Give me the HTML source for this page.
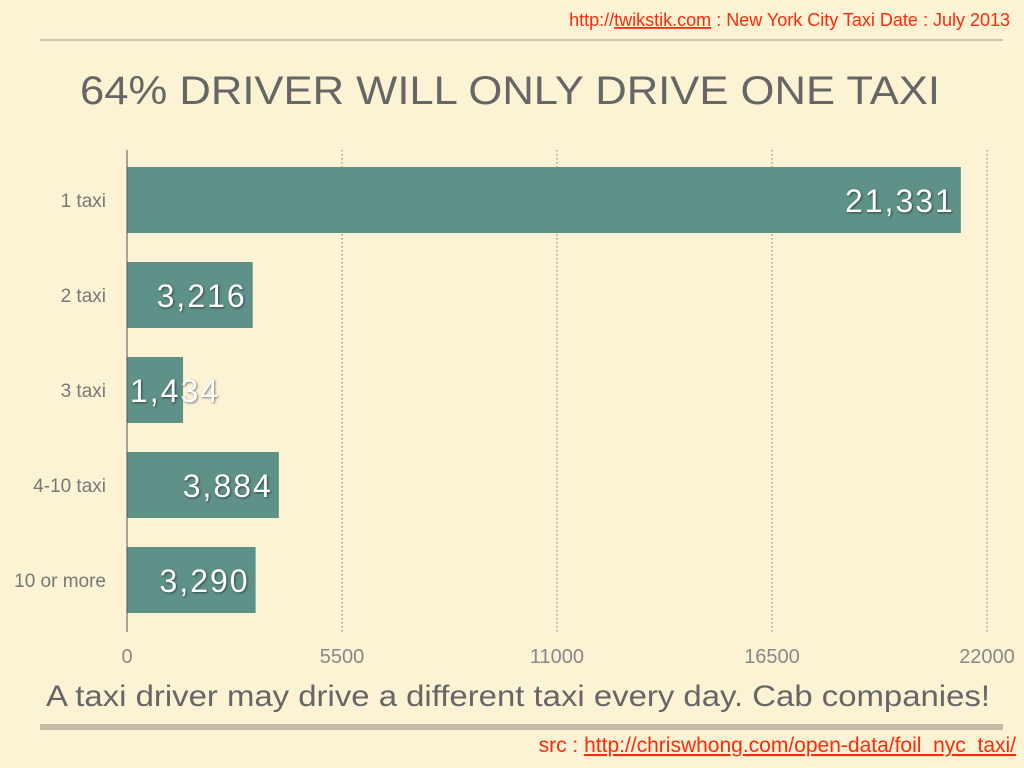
<!DOCTYPE html>
<html><head><meta charset="utf-8"><style>
body{margin:0;width:1024px;height:768px;background:#fcf3d4;overflow:hidden;font-family:"Liberation Sans",sans-serif}
svg{display:block}
</style></head><body>
<svg width="1024" height="768">
<text x="1010" y="26" text-anchor="end" fill="#ff2a0a" font-size="18">http://<tspan text-decoration="underline">twikstik.com</tspan> : New York City Taxi Date : July 2013</text>
<line x1="40" y1="40" x2="1003" y2="40" stroke="#bdb5a0" stroke-width="1.5"/>
<text x="80" y="104" fill="#666" font-size="40" textLength="860" lengthAdjust="spacingAndGlyphs">64% DRIVER WILL ONLY DRIVE ONE TAXI</text>
<g id="grid"></g><g id="bars"></g><g id="xt"></g>
<line x1="127" y1="150" x2="127" y2="632" stroke="#555" stroke-width="1"/>
<text x="46" y="706" fill="#666" font-size="30" textLength="944" lengthAdjust="spacingAndGlyphs">A taxi driver may drive a different taxi every day. Cab companies!</text>
<rect x="40" y="724" width="963" height="6" fill="#c4bca6"/>
<text x="1016" y="752" text-anchor="end" fill="#ff2a0a" font-size="21">src : <tspan text-decoration="underline">http://chriswhong.com/open-data/foil_nyc_taxi/</tspan></text>
</svg>
<script>
const categories=["1 taxi","2 taxi","3 taxi","4-10 taxi","10 or more"];
const values=[21331,3216,1434,3884,3290];
const valueLabels=["21,331","3,216","1,434","3,884","3,290"];
const ticks=[0,5500,11000,16500,22000];
const NS="http://www.w3.org/2000/svg";
const X0=127,X1=987,TOP=150,BAND=95;
const xs=v=>X0+(v/22000)*(X1-X0);
const ys=i=>TOP+17+i*BAND;
function mk(t,a,p){const e=document.createElementNS(NS,t);for(const k in a)e.setAttribute(k,a[k]);p.appendChild(e);return e;}
const g=document.getElementById('grid'),b=document.getElementById('bars'),xt=document.getElementById('xt');
ticks.forEach((t,i)=>{
 if(i>0){const l=mk('line',{x1:xs(t),x2:xs(t),y1:TOP,y2:632,stroke:'#777','stroke-dasharray':'1.5,2.5'},g);
 
 }
 const tx=mk('text',{x:xs(t),y:663,'text-anchor':'middle',fill:'#888','font-size':'20'},xt);
 tx.textContent=t;
 
 
});
categories.forEach((c,i)=>{
 const r=mk('rect',{x:X0,y:ys(i),width:xs(values[i])-X0,height:66,fill:'#5e9188'},b);
 
 
 const cl=mk('text',{x:106,y:ys(i)+40,'text-anchor':'end',fill:'#777','font-size':'19'},b);
 cl.textContent=c;
 
 
 const vl=mk('text',{x:0,y:ys(i)+45,fill:'#fff','font-size':'32','letter-spacing':'2',style:'text-shadow:1px 1px 2px rgba(0,0,0,.5)'},b);
 vl.textContent=valueLabels[i];
 
 
 const w=vl.getComputedTextLength();
 vl.setAttribute('x',Math.max(X0+3,xs(values[i])-6-w));
});
</script>
</body></html>
